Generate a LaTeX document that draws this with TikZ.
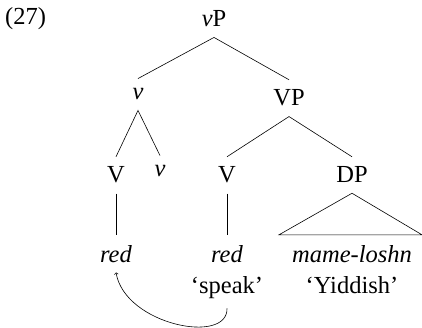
\documentclass[tikz,border=0pt]{standalone}
\usepackage{fontspec}
\setmainfont{Liberation Serif}
\usetikzlibrary{calc}
\begin{document}
\begin{tikzpicture}[x=1pt,y=-1pt,
  lab/.style={anchor=base,inner xsep=2pt,inner ysep=10pt,font=\fontsize{24.5}{29}\selectfont},
  edge/.style={line width=0.6pt},
  mv/.style={line width=0.6pt,->}]
\useasboundingbox (0,0) rectangle (422,328);
\node[lab,anchor=base west,inner sep=0pt] (ex) at (5,25) {(27)};
\node[lab] (vP) at (214,27) {\textit{v}P};
\node[lab] (v) at (138,100) {\textit{v}};
\node[lab] (VP) at (289,106) {VP};
\node[lab] (V1) at (116,183) {V};
\node[lab] (v2) at (160,177) {\textit{v}};
\node[lab] (V2) at (227,183) {V};
\node[lab] (DP) at (352,183) {DP};
\node[lab] (red1) at (116,262) {\textit{red}};
\node[lab] (red2) at (227,262) {\textit{red}};
\node[lab] (ml) at (352,262) {\textit{mame-loshn}};
\node[lab] (sp) at (227,293) {‘speak’};
\node[lab] (yi) at (352,293) {‘Yiddish’};
\draw[edge] (v.north) -- (vP.south) -- (VP.north);
\draw[edge] (V1.north) -- (v.south) -- (v2.north);
\draw[edge] (V2.north) -- (VP.south) -- (DP.north);
\draw[edge] (V1.south) -- (red1.north);
\draw[edge] (V2.south) -- (red2.north);
\draw[edge] (DP.south) -- ($(ml.north)+(-73,0)$) -- ($(ml.north)+(70,0)$) -- cycle;
\draw[mv] (sp.south) .. controls (228,345) and (125,325) .. (red1.south);
\end{tikzpicture}
\end{document}
